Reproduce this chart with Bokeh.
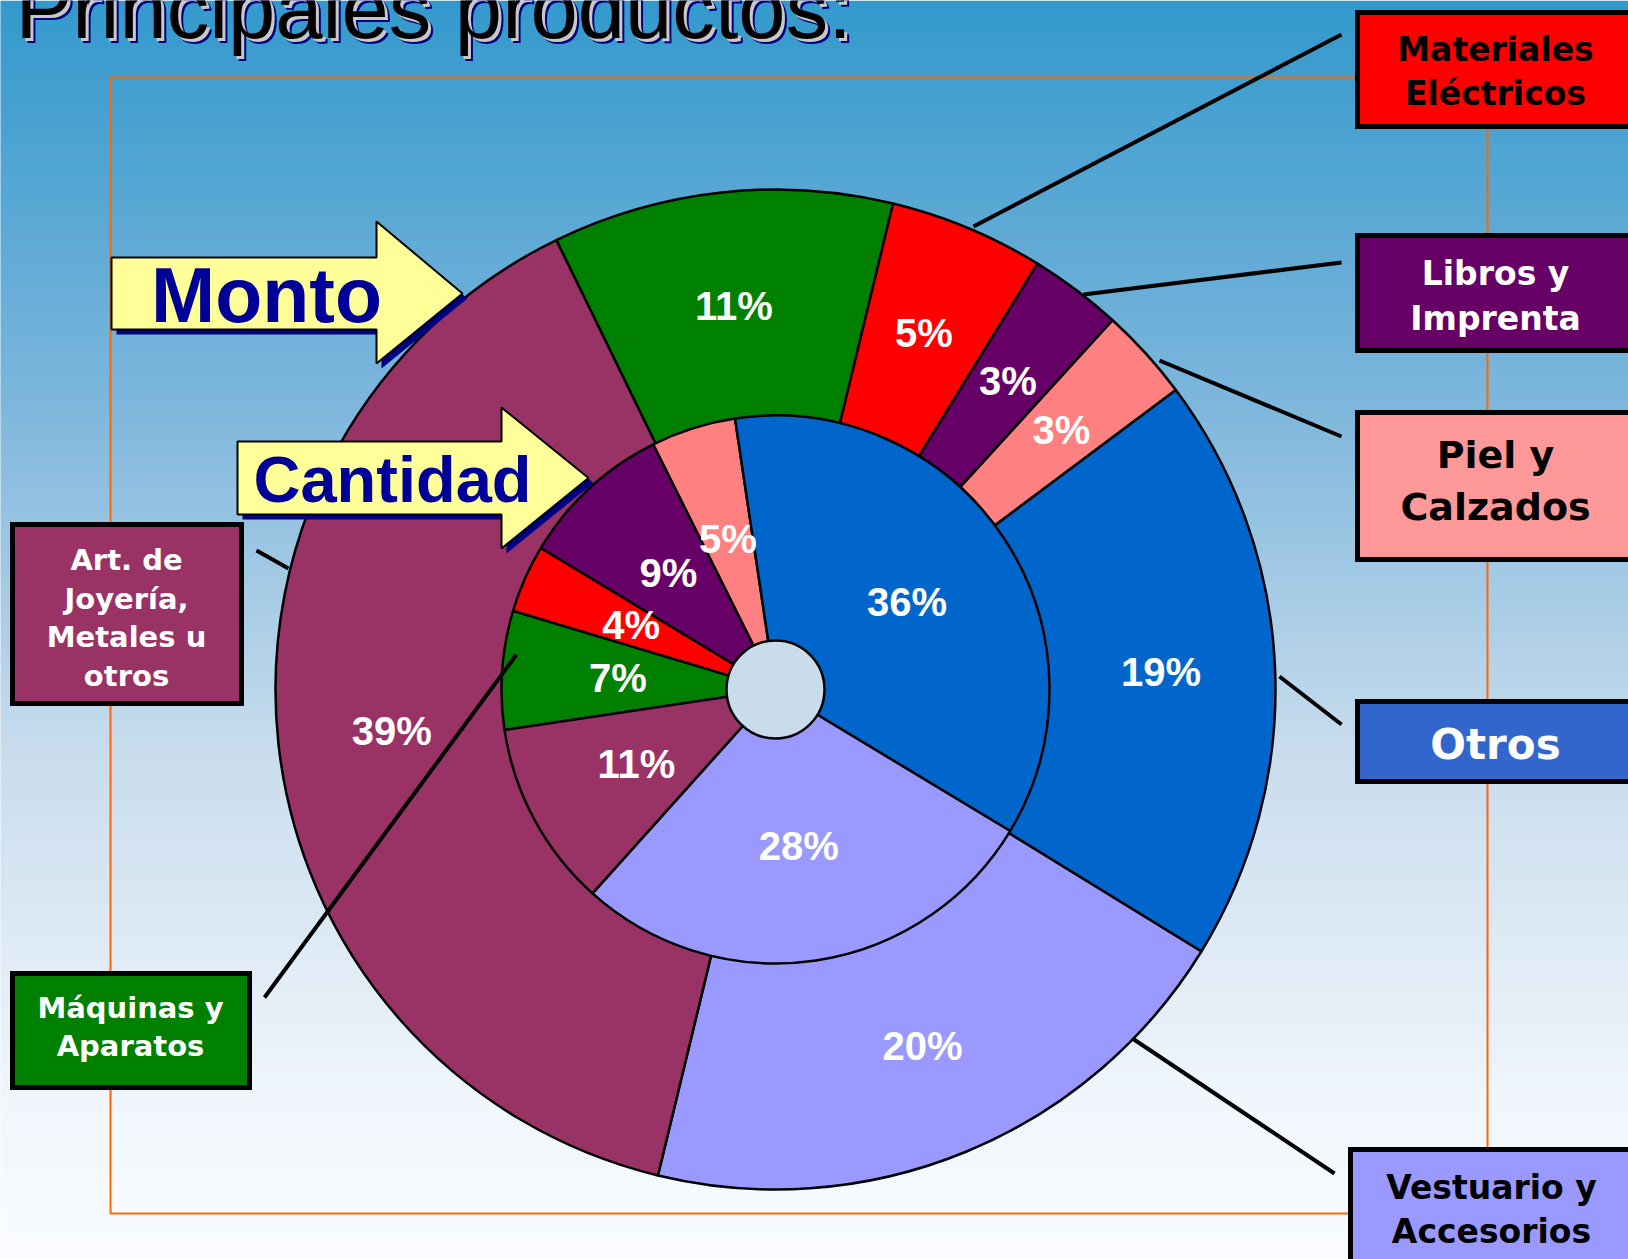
import math
from bokeh.plotting import figure
from bokeh.models import Range1d
from bokeh.embed import file_html
from bokeh.resources import INLINE
from bokeh.core.properties import value

# ---------------- data ----------------
title = "Principales productos:"
categories = ["Máquinas y Aparatos", "Materiales Eléctricos", "Libros y Imprenta",
              "Piel y Calzados", "Otros", "Vestuario y Accesorios",
              "Art. de Joyería, Metales u otros"]
monto = [11, 5, 3, 3, 19, 20, 39]        # outer ring (%)
cantidad = [7, 4, 9, 5, 36, 28, 11]      # inner ring (%)
ring_names = ["Monto", "Cantidad"]
box_lines = [["Máquinas y", "Aparatos"], ["Materiales", "Eléctricos"],
             ["Libros y", "Imprenta"], ["Piel y", "Calzados"], ["Otros"],
             ["Vestuario y", "Accesorios"], ["Art. de", "Joyería,", "Metales u", "otros"]]

# ---------------- styles / layout ----------------
slice_colors = ["#008000", "#FF0000", "#660066", "#FF8080", "#0066CC", "#9999FF", "#993366"]
box_colors = ["#008000", "#FF0000", "#660066", "#FF9999", "#3366CC", "#9999FF", "#993366"]
box_text_colors = ["white", "black", "white", "black", "white", "black", "white"]
box_rects = [(12, 973, 249, 1087), (1357, 12, 1630, 126), (1357, 235, 1630, 350),
             (1357, 412, 1630, 559), (1357, 701, 1630, 781), (1350, 1149, 1630, 1265),
             (12, 524, 241, 703)]
box_text_x = [130, 1495, 1495, 1495, 1495, 1491, 126]
box_text_y = [[1007, 1045], [49, 93], [273, 318], [454, 506], [744], [1187, 1231],
              [559, 598, 636, 675]]
box_font = [29, 33, 33, 38, 42, 33, 29]
leaders = [((264, 997), (516, 654)), ((973, 226), (1341, 34)), ((1083, 294), (1341, 262)),
           ((1159, 360), (1341, 436)), ((1279, 676), (1341, 724)),
           ((1132, 1038), (1334, 1173)), ((256, 550), (288, 568))]

CX, CY = 775, 689
R_OUT, R_IN, R_HOLE = 500, 274, 49
OUT_START, IN_START = -26.0, -98.5   # degrees clockwise from 12 o'clock
W, H = 1628, 1259

p = figure(width=W, height=H, x_range=Range1d(0, W), y_range=Range1d(-H, 0),
           output_backend="svg", toolbar_location=None, min_border=0,
           x_axis_location=None, y_axis_location=None)
p.grid.visible = False
p.outline_line_color = None
p.background_fill_color = "white"
p.border_fill_color = "white"

# background gradient
stops = [(0, (51, 153, 204)), (400, (125, 182, 220)), (750, (200, 220, 237)),
         (1100, (240, 246, 252)), (1260, (250, 252, 255))]
def grad(yv):
    for (y0, c0), (y1, c1) in zip(stops[:-1], stops[1:]):
        if y0 <= yv <= y1:
            t = (yv - y0) / (y1 - y0)
            return "#%02x%02x%02x" % tuple(int(round(a + (b - a) * t)) for a, b in zip(c0, c1))
    return "#%02x%02x%02x" % stops[-1][1]
step = 3
tops, bots, cols = [], [], []
for yy in range(0, 1262, step):
    tops.append(-yy)
    bots.append(-(yy + step + 0.5))
    cols.append(grad(yy + step / 2))
p.quad(left=-5, right=1640, top=tops, bottom=bots, fill_color=cols, line_color=None)

# orange frame
p.quad(left=110, right=1487, top=-77, bottom=-1213, fill_color=None,
       line_color="#FF6600", line_width=2)

def wedges(vals, start, radius):
    total = sum(vals)
    s = start
    res = []
    for v in vals:
        e = s + 360.0 * v / total
        res.append((s, e))
        s = e
    starts = [math.radians(90 - a) for a, b in res]
    ends = [math.radians(90 - b) for a, b in res]
    p.wedge(x=CX, y=-CY, radius=radius, start_angle=starts, end_angle=ends,
            direction="clock", fill_color=slice_colors, line_color="black", line_width=2.5)
    return res

out_ang = wedges(monto, OUT_START, R_OUT)
in_ang = wedges(cantidad, IN_START, R_IN)
p.circle(x=CX, y=-CY, radius=R_HOLE, fill_color="#C9DCEB", line_color="black", line_width=2.5)

def labels(vals, angs, r):
    xs, ys, tx = [], [], []
    for v, (a, b) in zip(vals, angs):
        m = math.radians(90 - (a + b) / 2)
        xs.append(CX + r * math.cos(m))
        ys.append(-CY + r * math.sin(m))
        tx.append("%d%%" % v)
    p.text(x=xs, y=ys, text=tx, text_color="white", text_font=value("Liberation Sans"),
           text_font_style="bold", text_font_size="40px", text_align="center",
           text_baseline="middle")

labels(monto, out_ang, 386)
labels(cantidad, in_ang, 158)

# arrows
arrows = [
    dict(body=(111, 376, 257, 329), head=(221, 462, 363), text_x=266, text_y=294, fs=77),
    dict(body=(237, 501, 441, 514), head=(407, 588, 548), text_x=392, text_y=479, fs=65),
]
for name, a in zip(ring_names, arrows):
    l, r, t, b = a["body"]
    ht, tipx, hb = a["head"]
    xs = [l, r, r, tipx, r, r, l]
    ys = [t, t, ht, (t + b) / 2, hb, b, b]
    p.patch([x + 5 for x in xs], [-(y + 5) for y in ys], fill_color="#000080", line_color=None)
    p.patch(xs, [-y for y in ys], fill_color="#FFFF99", line_color="black", line_width=2)
    p.text(x=[a["text_x"]], y=[-a["text_y"]], text=[name], text_color="#000099",
           text_font=value("Liberation Sans"), text_font_style="bold",
           text_font_size="%dpx" % a["fs"], text_align="center", text_baseline="middle")

# leader lines
p.segment(x0=[a[0] for a, b in leaders], y0=[-a[1] for a, b in leaders],
          x1=[b[0] for a, b in leaders], y1=[-b[1] for a, b in leaders],
          line_color="black", line_width=4)

# callout boxes
for i, cat in enumerate(categories):
    l, t, r, b = box_rects[i]
    p.quad(left=l, right=r, top=-t, bottom=-b, fill_color=box_colors[i],
           line_color="black", line_width=5, line_join="miter")
    n = len(box_lines[i])
    p.text(x=[box_text_x[i]] * n, y=[-yy for yy in box_text_y[i]], text=box_lines[i],
           text_color=box_text_colors[i], text_font=value("DejaVu Sans"),
           text_font_style="bold", text_font_size="%dpx" % box_font[i],
           text_align="center", text_baseline="middle")

# title with shadow
for dx, col in [(5, "#000080"), (3, "#C8C8C8"), (0, "black")]:
    p.text(x=[15 + dx], y=[-(8 + dx)], text=[title], text_color=col,
           text_font=value("Liberation Sans"), text_font_size="85px",
           text_align="left", text_baseline="middle")

open("out.html", "w").write(file_html(p, INLINE))
